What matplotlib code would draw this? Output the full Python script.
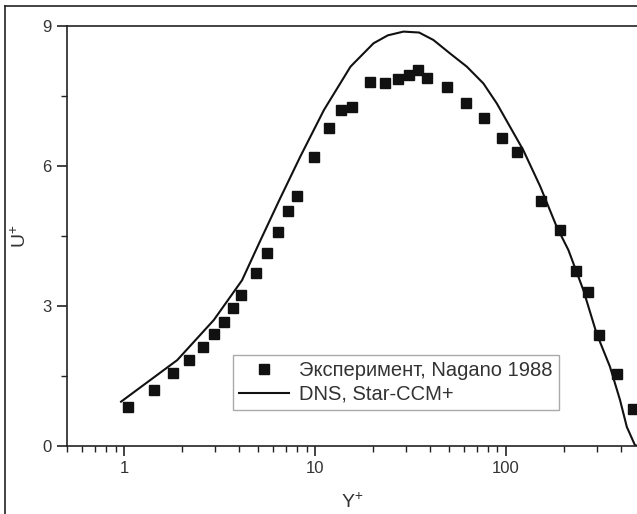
import matplotlib
matplotlib.use("Agg")
import matplotlib.pyplot as plt
from matplotlib.lines import Line2D
from matplotlib.ticker import LogLocator, FixedLocator, NullFormatter

plt.rcParams['font.family'] = ['Liberation Sans', 'DejaVu Sans']
plt.rcParams['mathtext.fontset'] = 'custom'
plt.rcParams['mathtext.rm'] = 'Liberation Sans'
plt.rcParams['mathtext.it'] = 'Liberation Sans'

# experiment (Nagano 1988)
exp_x = [1.04, 1.42, 1.80, 2.19, 2.58, 2.95, 3.33, 3.72, 4.10, 4.89, 5.6, 6.4,
         7.2, 7.98, 9.88, 11.8, 13.7, 15.6, 19.4, 23.3, 27.0, 31.0, 34.6, 38.7,
         49.3, 61.5, 76.7, 95.7, 114.6, 153, 191, 232, 269, 306, 381, 462]
exp_y = [0.84, 1.21, 1.56, 1.84, 2.13, 2.41, 2.66, 2.95, 3.24, 3.71, 4.14, 4.59,
         5.04, 5.36, 6.19, 6.82, 7.20, 7.26, 7.79, 7.77, 7.87, 7.95, 8.06, 7.89,
         7.69, 7.36, 7.03, 6.61, 6.30, 5.24, 4.63, 3.75, 3.31, 2.38, 1.54, 0.80]

# DNS, Star-CCM+
dns_x = [0.96, 1.89, 2.94, 4.13, 5.15, 6.48, 8.34, 11.1, 15.3, 20.2, 24.0, 29.0,
         35.0, 41.6, 50.9, 62.2, 76.0, 89.4, 123, 151, 184, 212, 254, 298, 350,
         395, 429, 473, 490]
dns_y = [0.95, 1.84, 2.70, 3.55, 4.40, 5.27, 6.20, 7.20, 8.13, 8.63, 8.80, 8.88,
         8.86, 8.70, 8.41, 8.13, 7.77, 7.34, 6.34, 5.56, 4.70, 4.20, 3.34, 2.41, 1.70,
         0.99, 0.41, 0.02, 0.0]

y_ticks = [0, 3, 6, 9]
x_ticks = [1, 10, 100]
x_labels = ['1', '10', '100']

W, H = 637, 514
fig = plt.figure(figsize=(W / 100, H / 100), dpi=100)
ax = fig.add_axes([67 / W, 68 / H, 572.5 / W, 420 / H])

dark = '#222222'
ax.plot(dns_x, dns_y, '-', color='#111111', lw=1.5, label='DNS, Star-CCM+')
ax.plot(exp_x, exp_y, 's', color='#111111', ms=7, ls='none',
        label='Эксперимент, Nagano 1988')

ax.set_xscale('log')
ax.set_xlim(0.5, 500)
ax.set_ylim(0, 9)
ax.xaxis.set_major_locator(FixedLocator(x_ticks))
ax.set_xticklabels(x_labels)
ax.xaxis.set_minor_locator(LogLocator(base=10, subs=range(2, 10)))
ax.xaxis.set_minor_formatter(NullFormatter())
ax.set_yticks(y_ticks)
ax.yaxis.set_minor_locator(FixedLocator([1.5, 4.5, 7.5]))

for s in ax.spines.values():
    s.set_color(dark)
    s.set_linewidth(1.2)
ax.tick_params(which='major', direction='out', length=7, width=1.2,
               color=dark, labelsize=12, labelcolor='#333333', pad=4)
ax.tick_params(which='minor', direction='out', length=4, width=1.0, color=dark)

ax.set_xlabel(r'Y$^{+}$', fontsize=14, color='#333333', va='center')
ax.set_ylabel(r'U$^{+}$', fontsize=14, color='#333333', va='center')
ax.xaxis.set_label_coords((352 - 67) / 572.5, (446 - 502) / 420)
ax.yaxis.set_label_coords((20 - 67) / 572.5, 0.5)

h, l = ax.get_legend_handles_labels()
leg = ax.legend(h[::-1], l[::-1], loc='lower left', bbox_to_anchor=(0.29, 0.086),
                borderaxespad=0, fancybox=False, edgecolor='#aaaaaa',
                fontsize=14.5, handlelength=2.5, handletextpad=0.5,
                labelspacing=0.25, borderpad=0.3, framealpha=1)
leg.get_frame().set_linewidth(1.0)
leg.legend_handles[1].set_markersize(6)
for t in leg.get_texts():
    t.set_color('#333333')

# outer frame of the original picture (left and top only)
fig.add_artist(Line2D([4.5 / W, 4.5 / W], [0, 1 - 6 / H], color=dark, lw=1.2))
fig.add_artist(Line2D([4.5 / W, 1], [1 - 6 / H, 1 - 6 / H], color=dark, lw=1.2))

fig.savefig('out.png', dpi=100)
